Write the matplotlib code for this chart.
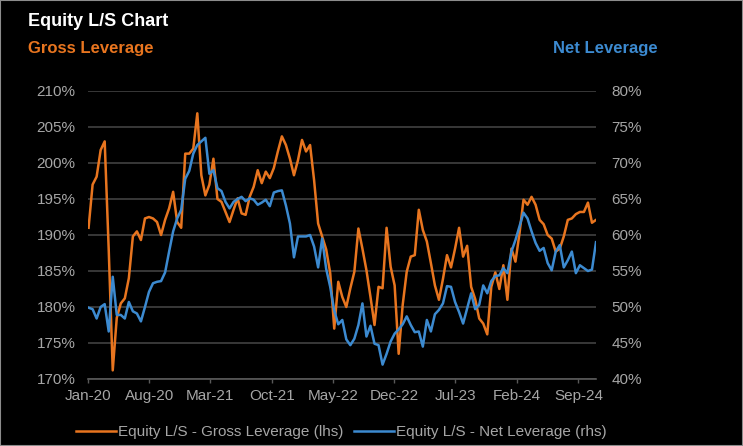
import numpy as np
import pandas as pd
import matplotlib
matplotlib.use("Agg")
import matplotlib.pyplot as plt
import matplotlib.dates as mdates
from matplotlib.ticker import FuncFormatter
from matplotlib.patches import Rectangle

plt.rcParams['font.family'] = ['Liberation Sans', 'DejaVu Sans']

# biweekly readings, Jan-2020 .. Oct-2024
dates = pd.date_range('2020-01-03', periods=127, freq='14D')

gross = [191.0, 197.0, 198.1, 201.8, 203.0, 188.0, 171.2, 178.5, 180.5, 181.2,
         184.0, 189.8, 190.5, 189.3, 192.3, 192.5, 192.3, 191.8, 190.0, 192.1,
         193.7, 196.0, 191.8, 191.0, 201.3, 201.3, 202.0, 206.9, 198.3, 195.5,
         197.0, 200.6, 195.0, 194.6, 193.2, 191.8, 193.5, 195.1, 193.0, 192.8,
         195.3, 196.7, 199.0, 197.2, 198.8, 197.9, 199.3, 201.6, 203.7, 202.5,
         200.6, 198.3, 200.4, 203.2, 201.6, 202.5, 197.6, 191.6, 189.8, 188.0,
         184.7, 177.0, 183.5, 181.4, 180.0, 182.6, 184.9, 190.9, 188.1, 185.1,
         181.4, 177.5, 182.8, 182.6, 191.0, 185.6, 183.0, 173.5, 180.3, 184.9,
         187.0, 187.2, 193.5, 190.7, 189.1, 186.1, 183.0, 181.0, 183.9, 187.2,
         185.5, 188.1, 191.0, 187.0, 188.5, 182.8, 181.1, 178.4, 177.7, 176.2,
         182.8, 184.8, 182.5, 185.8, 181.0, 188.1, 186.3, 190.2, 194.9, 194.2,
         195.3, 194.2, 192.1, 191.5, 190.0, 189.5, 187.7, 188.1, 189.8, 192.1,
         192.3, 192.9, 193.2, 193.2, 194.5, 191.7, 192.1]

net = [49.9, 49.7, 48.4, 50.0, 50.4, 46.6, 54.2, 48.9, 48.9, 48.4,
       50.7, 49.4, 49.1, 48.0, 50.0, 52.1, 53.3, 53.5, 53.6, 54.8,
       57.7, 60.5, 62.3, 63.5, 67.8, 68.9, 71.3, 72.5, 73.0, 73.5,
       68.5, 69.0, 66.5, 66.1, 64.6, 63.7, 64.6, 65.0, 65.3, 64.7,
       65.1, 64.9, 64.2, 64.5, 64.9, 64.0, 65.9, 66.1, 66.2, 64.1,
       61.6, 56.9, 59.8, 59.8, 59.8, 60.0, 58.4, 55.5, 59.5, 55.3,
       52.8, 49.5, 47.6, 48.2, 45.5, 44.7, 45.6, 47.5, 50.5, 45.9,
       47.4, 44.9, 44.7, 42.0, 43.5, 45.2, 46.3, 46.9, 47.6, 48.7,
       47.5, 46.5, 46.6, 44.5, 48.2, 46.6, 49.0, 49.6, 50.5, 52.9,
       52.8, 50.7, 49.3, 47.7, 49.8, 51.9, 49.7, 50.3, 53.0, 51.9,
       53.6, 54.3, 54.4, 55.4, 54.7, 57.7, 59.3, 61.2, 63.1, 62.3,
       60.5, 58.9, 57.8, 58.2, 56.1, 55.1, 57.7, 58.6, 55.5, 56.5,
       57.7, 54.7, 55.8, 55.4, 55.0, 55.2, 59.0]

tick_months = ['2020-01-01', '2020-08-01', '2021-03-01', '2021-10-01', '2022-05-01',
               '2022-12-01', '2023-07-01', '2024-02-01', '2024-09-01']
left_ticks = list(range(170, 211, 5))
right_ticks = list(range(40, 81, 5))

orange = '#E8751F'
blue = '#3C8AD0'
txt = '#a6a6a6'
grid_c = '#3c3c3c'

fig = plt.figure(figsize=(7.43, 4.46), dpi=100, facecolor='black')
ax = fig.add_axes([88 / 743, 1 - 379 / 446, 508 / 743, 288 / 446])
ax.set_facecolor('black')
l1, = ax.plot(dates, gross, color=orange, lw=1.8, label='Equity L/S - Gross Leverage (lhs)')
ax2 = ax.twinx()
l2, = ax2.plot(dates, net, color=blue, lw=1.8, label='Equity L/S - Net Leverage (rhs)')

ax.set_ylim(170, 210)
ax2.set_ylim(40, 80)
ax.set_yticks(left_ticks)
ax2.set_yticks(right_ticks)
pct = FuncFormatter(lambda v, p: f'{v:.0f}%')
ax.yaxis.set_major_formatter(pct)
ax2.yaxis.set_major_formatter(pct)
ax.grid(axis='y', color=grid_c, lw=1.3)
ax.set_axisbelow(True)

ax.set_xlim(pd.Timestamp('2020-01-01'), dates[-1])
ax.set_xticks(pd.to_datetime(tick_months))
ax.xaxis.set_major_formatter(mdates.DateFormatter('%b-%y'))

for a in (ax, ax2):
    for s in a.spines.values():
        s.set_visible(False)
ax.spines['bottom'].set_visible(True)
ax.spines['bottom'].set_color('#595959')
ax.spines['bottom'].set_linewidth(1.2)

ax.tick_params(axis='y', length=0, pad=9, labelcolor=txt, labelsize=11)
ax2.tick_params(axis='y', length=0, pad=11, labelcolor=txt, labelsize=11)
ax.tick_params(axis='x', length=3, width=1, color='#595959', pad=4, labelcolor=txt, labelsize=11)

fig.text(28 / 743, 1 - 22 / 446, 'Equity L/S Chart', color='white', fontsize=13,
         fontweight='bold', va='center')
fig.text(28 / 743, 1 - 48 / 446, 'Gross Leverage', color=orange, fontsize=12,
         fontweight='bold', va='center')
fig.text(658 / 743, 1 - 48 / 446, 'Net Leverage', color=blue, fontsize=12,
         fontweight='bold', va='center', ha='right')

fig.legend(handles=[l1, l2], loc='center', bbox_to_anchor=(0.4596, 1 - 432 / 446), ncol=2,
           frameon=False, labelcolor=txt, fontsize=11, handlelength=2.6,
           handletextpad=0.15, columnspacing=0.7)

fig.patches.append(Rectangle((0, 0), 1, 1, transform=fig.transFigure, fill=False,
                             edgecolor='#8c8c8c', lw=1.5))

fig.savefig('out.png', dpi=100, facecolor='black')
